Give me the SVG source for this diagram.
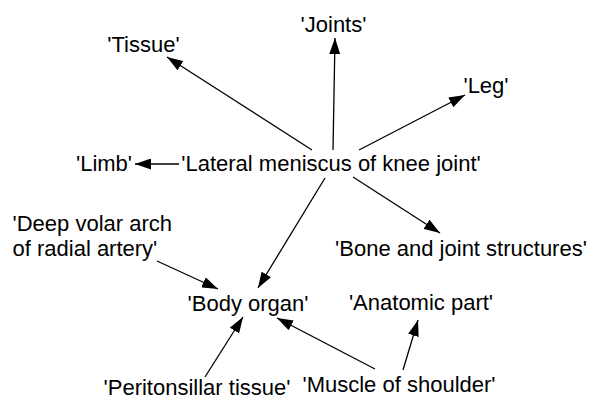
<svg xmlns="http://www.w3.org/2000/svg" width="590" height="400" viewBox="0 0 590 400">
<style>
text{font-family:"Liberation Sans",Arial,sans-serif;font-size:22px;fill:#000;text-anchor:middle}
.l{text-anchor:start}
.e{stroke:#000;stroke-width:1.3;fill:none;marker-end:url(#ah)}
</style>
<defs>
<marker id="ah" markerUnits="userSpaceOnUse" markerWidth="16" markerHeight="11" refX="16" refY="5.5" orient="auto">
<path d="M0,0 L16,5.5 L0,11 z" fill="#000"/>
</marker>
</defs>
<rect width="590" height="400" fill="#fff"/>
<g id="edges">
<line class="e" x1="312" y1="150" x2="167" y2="57"/>
<line class="e" x1="333" y1="150" x2="335" y2="38"/>
<line class="e" x1="359" y1="150" x2="465" y2="95"/>
<line class="e" x1="179" y1="164" x2="135" y2="164"/>
<line class="e" x1="353" y1="177" x2="440" y2="233"/>
<line class="e" x1="325" y1="178" x2="258" y2="288"/>
<line class="e" x1="157" y1="261" x2="218" y2="289"/>
<line class="e" x1="205" y1="377" x2="243" y2="317"/>
<line class="e" x1="375" y1="369" x2="277" y2="318"/>
<line class="e" x1="403" y1="370" x2="418" y2="320"/>
</g>
<g id="n-tissue"><text x="143.5" y="52">'Tissue'</text></g>
<g id="n-joints"><text x="333.5" y="32">'Joints'</text></g>
<g id="n-leg"><text x="486" y="93">'Leg'</text></g>
<g id="n-limb"><text x="104" y="171">'Limb'</text></g>
<g id="n-lateral"><text x="331" y="171">'Lateral meniscus of knee joint'</text></g>
<g id="n-deep"><text class="l" x="12.5" y="231">'Deep volar arch</text><text class="l" x="12.5" y="256">of radial artery'</text></g>
<g id="n-bone"><text x="461" y="256">'Bone and joint structures'</text></g>
<g id="n-body"><text x="248" y="311">'Body organ'</text></g>
<g id="n-anatomic"><text x="421" y="310">'Anatomic part'</text></g>
<g id="n-peri"><text x="197" y="395">'Peritonsillar tissue'</text></g>
<g id="n-muscle"><text x="399" y="392">'Muscle of shoulder'</text></g>
</svg>
